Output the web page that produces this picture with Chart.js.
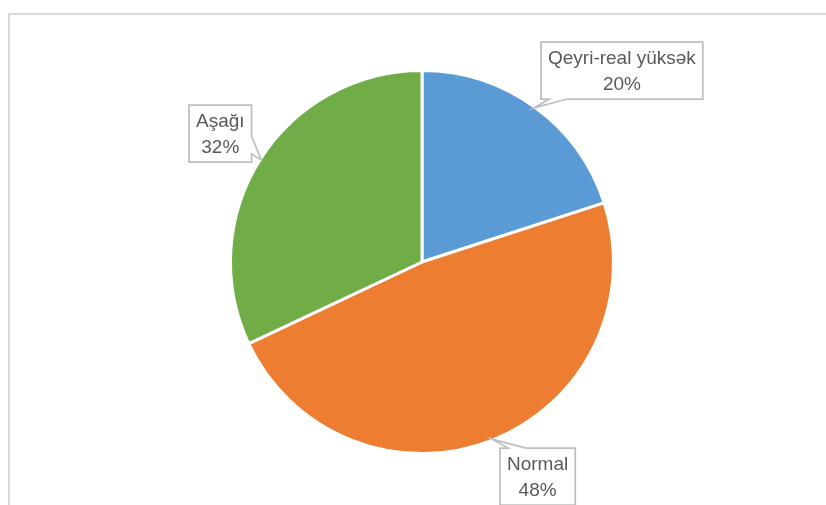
<!DOCTYPE html>
<html lang="az">
<head>
  <meta charset="UTF-8">
  <title>Pie</title>
  <script src="https://cdn.jsdelivr.net/npm/chart.js"></script>
  <style>
    html, body { margin: 0; padding: 0; background: #fff; }
    canvas { display: block; }
  </style>
</head>
<body>
  <canvas id="chart" width="826" height="505"></canvas>
  <script>
    // data
    const categories = ['Qeyri-real yüksək', 'Normal', 'Aşağı'];
    const shares = [20, 48, 32];
    const sliceColors = ['#5B9BD5', '#ED7D31', '#70AD47'];

    // where each callout box sits, relative to the outer middle of its slice
    const calloutOffsets = [[88, -37], [45, 37], [-41, -26]];

    function calloutPath(ctx, L, T, R, B, tip) {
      const cx = (L + R) / 2, cy = (T + B) / 2;
      // which edge faces the tip
      const exX = tip.x < L ? L - tip.x : (tip.x > R ? tip.x - R : 0);
      const exY = tip.y < T ? T - tip.y : (tip.y > B ? tip.y - B : 0);
      let edge;
      if (exY >= exX) edge = tip.y < cy ? 'top' : 'bottom';
      else edge = tip.x < cx ? 'left' : 'right';
      const d1 = 8, d2 = 26;
      ctx.beginPath();
      ctx.moveTo(L, T);
      if (edge === 'top') {
        if (tip.x < cx) { ctx.lineTo(L + d1, T); ctx.lineTo(tip.x, tip.y); ctx.lineTo(L + d2, T); }
        else { ctx.lineTo(R - d2, T); ctx.lineTo(tip.x, tip.y); ctx.lineTo(R - d1, T); }
      }
      ctx.lineTo(R, T);
      if (edge === 'right') {
        if (tip.y < cy) { ctx.lineTo(R, T + d1); ctx.lineTo(tip.x, tip.y); ctx.lineTo(R, T + d2); }
        else { ctx.lineTo(R, B - d2); ctx.lineTo(tip.x, tip.y); ctx.lineTo(R, B - d1); }
      }
      ctx.lineTo(R, B);
      if (edge === 'bottom') {
        if (tip.x > cx) { ctx.lineTo(R - d1, B); ctx.lineTo(tip.x, tip.y); ctx.lineTo(R - d2, B); }
        else { ctx.lineTo(L + d2, B); ctx.lineTo(tip.x, tip.y); ctx.lineTo(L + d1, B); }
      }
      ctx.lineTo(L, B);
      if (edge === 'left') {
        if (tip.y > cy) { ctx.lineTo(L, B - d1); ctx.lineTo(tip.x, tip.y); ctx.lineTo(L, B - d2); }
        else { ctx.lineTo(L, T + d2); ctx.lineTo(tip.x, tip.y); ctx.lineTo(L, T + d1); }
      }
      ctx.closePath();
    }

    const frameAndCallouts = {
      id: 'frameAndCallouts',
      beforeDraw(chart) {
        const ctx = chart.ctx;
        ctx.save();
        ctx.strokeStyle = '#D9D9D9';
        ctx.lineWidth = 2;
        ctx.strokeRect(9, 14, 900, 600);
        ctx.restore();
      },
      afterDraw(chart) {
        const ctx = chart.ctx;
        const arcs = chart.getDatasetMeta(0).data;
        const total = shares.reduce((a, b) => a + b, 0);
        ctx.save();
        ctx.font = '19px "Liberation Sans", Arial, sans-serif';
        ctx.textAlign = 'center';
        ctx.textBaseline = 'middle';
        arcs.forEach((arc, i) => {
          const p = arc.getProps(['x', 'y', 'startAngle', 'endAngle', 'outerRadius'], true);
          const mid = (p.startAngle + p.endAngle) / 2;
          const tip = {
            x: p.x + Math.cos(mid) * (p.outerRadius - 1),
            y: p.y + Math.sin(mid) * (p.outerRadius - 1)
          };
          const lines = [categories[i], Math.round(shares[i] / total * 100) + '%'];
          const w = Math.max(...lines.map(t => ctx.measureText(t).width)) + 14;
          const h = 57;
          const bx = tip.x + calloutOffsets[i][0];
          const by = tip.y + calloutOffsets[i][1];
          const L = Math.round(bx - w / 2), T = Math.round(by - h / 2);
          calloutPath(ctx, L, T, L + w, T + h, tip);
          ctx.fillStyle = '#fff';
          ctx.fill();
          ctx.strokeStyle = '#BFBFBF';
          ctx.lineWidth = 1.75;
          ctx.stroke();
          ctx.fillStyle = '#595959';
          ctx.fillText(lines[0], L + w / 2, T + h / 2 - 12);
          ctx.fillText(lines[1], L + w / 2, T + h / 2 + 14);
        });
        ctx.restore();
      }
    };

    new Chart(document.getElementById('chart'), {
      type: 'pie',
      data: {
        labels: categories,
        datasets: [{
          data: shares,
          backgroundColor: sliceColors,
          borderColor: '#fff',
          borderWidth: 3
        }]
      },
      options: {
        responsive: false,
        animation: false,
        layout: { padding: { left: 229, right: 211, top: 69, bottom: 50 } },
        plugins: {
          legend: { display: false },
          tooltip: { enabled: false }
        }
      },
      plugins: [frameAndCallouts]
    });
  </script>
</body>
</html>
